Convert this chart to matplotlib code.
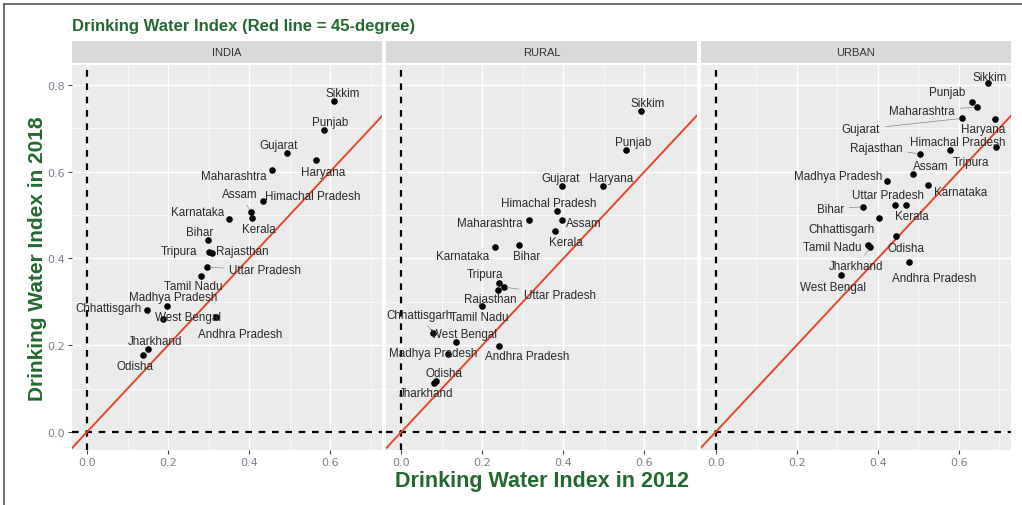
import numpy as np
import matplotlib
matplotlib.use("Agg")
import matplotlib.pyplot as plt
from matplotlib.lines import Line2D

# data: water index 2012 (x) vs 2018 (y)
india_states = ["Sikkim", "Punjab", "Gujarat", "Haryana", "Maharashtra", "Himachal Pradesh",
                "Assam", "Kerala", "Karnataka", "Bihar", "Tripura", "Rajasthan", "Uttar Pradesh",
                "Tamil Nadu", "Madhya Pradesh", "Chhattisgarh", "West Bengal", "Andhra Pradesh",
                "Jharkhand", "Odisha"]
india_2012 = [0.610, 0.584, 0.493, 0.565, 0.457, 0.435, 0.405, 0.407, 0.351, 0.298, 0.301, 0.309,
              0.296, 0.281, 0.198, 0.149, 0.187, 0.319, 0.151, 0.138]
india_2018 = [0.762, 0.697, 0.643, 0.628, 0.605, 0.532, 0.507, 0.493, 0.490, 0.443, 0.416, 0.413,
              0.380, 0.360, 0.291, 0.282, 0.261, 0.264, 0.191, 0.178]

rural_states = ["Sikkim", "Punjab", "Gujarat", "Haryana", "Himachal Pradesh", "Assam", "Maharashtra",
                "Kerala", "Karnataka", "Bihar", "Tripura", "Uttar Pradesh", "Rajasthan", "Tamil Nadu",
                "Chhattisgarh", "West Bengal", "Madhya Pradesh", "Andhra Pradesh", "Odisha", "Jharkhand"]
rural_2012 = [0.591, 0.555, 0.396, 0.497, 0.384, 0.396, 0.315, 0.380, 0.230, 0.291, 0.240, 0.254,
              0.238, 0.199, 0.079, 0.135, 0.114, 0.242, 0.086, 0.081]
rural_2018 = [0.741, 0.651, 0.568, 0.566, 0.510, 0.489, 0.489, 0.464, 0.427, 0.430, 0.343, 0.334,
              0.327, 0.290, 0.228, 0.208, 0.180, 0.198, 0.118, 0.113]

urban_states = ["Sikkim", "Punjab", "Maharashtra", "Gujarat", "Haryana", "Himachal Pradesh", "Tripura",
                "Rajasthan", "Assam", "Madhya Pradesh", "Karnataka", "Uttar Pradesh", "Kerala", "Bihar",
                "Chhattisgarh", "Odisha", "Tamil Nadu", "Andhra Pradesh", "Jharkhand", "West Bengal"]
urban_2012 = [0.671, 0.632, 0.645, 0.609, 0.689, 0.578, 0.691, 0.505, 0.486, 0.423, 0.523, 0.442,
              0.471, 0.364, 0.403, 0.446, 0.375, 0.476, 0.382, 0.310]
urban_2018 = [0.804, 0.760, 0.749, 0.723, 0.722, 0.649, 0.656, 0.641, 0.595, 0.578, 0.569, 0.523,
              0.523, 0.519, 0.493, 0.451, 0.431, 0.393, 0.426, 0.362]

panel_names = ["INDIA", "RURAL", "URBAN"]

# label offsets (pixels, right / down) imitating ggrepel placement
india_offsets = [(9, -8), (7, -8), (-8, -8), (7, 12), (-38, 6), (50, -5), (-11, -18), (7, 11),
                 (-32, -7), (-8, -8), (-30, -1), (30, -2), (58, 3), (-8, 10), (6, -9), (-39, -2),
                 (25, -2), (24, 17), (7, -8), (-8, 11)]
rural_offsets = [(7, -8), (7, -8), (-1, -8), (8, -8), (-8, -8), (22, 3), (-39, 3), (11, 11),
                 (-32, 9), (7, 11), (-14, -9), (56, 8), (-7, 9), (-3, 11), (-14, -18), (8, -8),
                 (-14, -1), (28, 10), (8, -8), (-8, 10)]
urban_offsets = [(2, -6), (-25, -10), (-55, 4), (-102, 11), (-12, 10), (8, -8), (-25, 15), (-44, -6),
                 (18, -8), (-49, -5), (33, 7), (-7, -10), (5, 11), (-33, 2), (-37, 11), (10, 12),
                 (-35, 2), (26, 16), (-14, 19), (-8, 12)]
segments = [{"Assam", "Uttar Pradesh"},
            {"Uttar Pradesh", "Chhattisgarh"},
            {"Maharashtra", "Gujarat", "Rajasthan", "Bihar", "Jharkhand"}]

green = "#23692f"
W, H = 1022, 506
fig = plt.figure(figsize=(W / 100, H / 100), dpi=100)
fig.patch.set_facecolor("white")

# frame around the picture (left + top)
fig.add_artist(Line2D([4 / W, 4 / W], [0, 1 - 5 / H], transform=fig.transFigure, color="#555555", lw=1.2))
fig.add_artist(Line2D([4 / W, 1], [1 - 5 / H, 1 - 5 / H], transform=fig.transFigure, color="#555555", lw=1.2))

left, right = 72, 1011
gap = 4
pw = (right - left - 2 * gap) / 3
ptop, pbot = 66, 451
stop, sbot = 42, 64

xlim = (-0.037, 0.729)
ylim = (-0.0415, 0.846)

data = [(india_states, india_2012, india_2018, india_offsets),
        (rural_states, rural_2012, rural_2018, rural_offsets),
        (urban_states, urban_2012, urban_2018, urban_offsets)]

for i, (states, x, y, offs) in enumerate(data):
    x0 = left + i * (pw + gap)
    ax = fig.add_axes([x0 / W, 1 - pbot / H, pw / W, (pbot - ptop) / H])
    ax.set_facecolor("#ebebeb")
    for s in ax.spines.values():
        s.set_visible(False)
    ax.set_xlim(xlim)
    ax.set_ylim(ylim)
    ax.set_xticks([0.0, 0.2, 0.4, 0.6])
    ax.set_yticks([0.0, 0.2, 0.4, 0.6, 0.8])
    ax.set_xticks([0.1, 0.3, 0.5, 0.7], minor=True)
    ax.set_yticks([0.1, 0.3, 0.5, 0.7], minor=True)
    ax.grid(which="major", color="white", lw=1.0)
    ax.grid(which="minor", color="white", lw=0.5)
    ax.set_axisbelow(True)
    ax.tick_params(which="major", length=3, width=0.8, color="#444444", labelsize=8,
                   labelcolor="#7f7f8c", pad=2)
    ax.tick_params(which="minor", length=0)
    ax.set_xticklabels(["0.0", "0.2", "0.4", "0.6"])
    if i == 0:
        ax.set_yticklabels(["0.0", "0.2", "0.4", "0.6", "0.8"])
    else:
        ax.tick_params(axis="y", which="major", length=0, labelleft=False)

    ax.axvline(0, color="black", lw=1.6, ls=(0, (3, 3)), zorder=2)
    ax.axhline(0, color="black", lw=1.6, ls=(0, (3, 3)), zorder=2)
    ax.plot(xlim, xlim, color="#e5472c", lw=1.4, zorder=3)
    ax.scatter(x, y, s=14, color="black", zorder=4)

    for name, xv, yv, (dx, dy) in zip(states, x, y, offs):
        props = None
        if name in segments[i]:
            props = dict(arrowstyle="-", color="#888888", lw=0.5, shrinkA=2, shrinkB=2)
        ax.annotate(name, (xv, yv), xytext=(dx, -dy), textcoords="offset pixels",
                    ha="center", va="center", fontsize=8.4, color="#2a2a2a",
                    family="Liberation Sans", arrowprops=props, zorder=5)

    # facet strip
    sax = fig.add_axes([x0 / W, 1 - sbot / H, pw / W, (sbot - stop) / H])
    sax.set_facecolor("#d9d9d9")
    sax.set_xticks([])
    sax.set_yticks([])
    for s in sax.spines.values():
        s.set_visible(False)
    sax.text(0.5, 0.5, panel_names[i], ha="center", va="center", fontsize=8,
             color="#333333", family="Liberation Sans", transform=sax.transAxes)

fig.text(72 / W, 1 - 27 / H, "Drinking Water Index (Red line = 45-degree)", ha="left", va="center",
         fontsize=12, fontweight="bold", color=green, family="Liberation Sans")
fig.text((left + right) / 2 / W, 1 - 482 / H, "Drinking Water Index in 2012", ha="center", va="center",
         fontsize=15.5, fontweight="bold", color=green,
         family=["Liberation Sans Narrow", "Liberation Sans"])
fig.text(38 / W, 1 - (ptop + pbot) / 2 / H, "Drinking Water Index in 2018", ha="center", va="center",
         rotation=90, fontsize=15, fontweight="bold", color=green,
         family=["Liberation Sans Narrow", "Liberation Sans"])

fig.savefig("out.png", dpi=100)
